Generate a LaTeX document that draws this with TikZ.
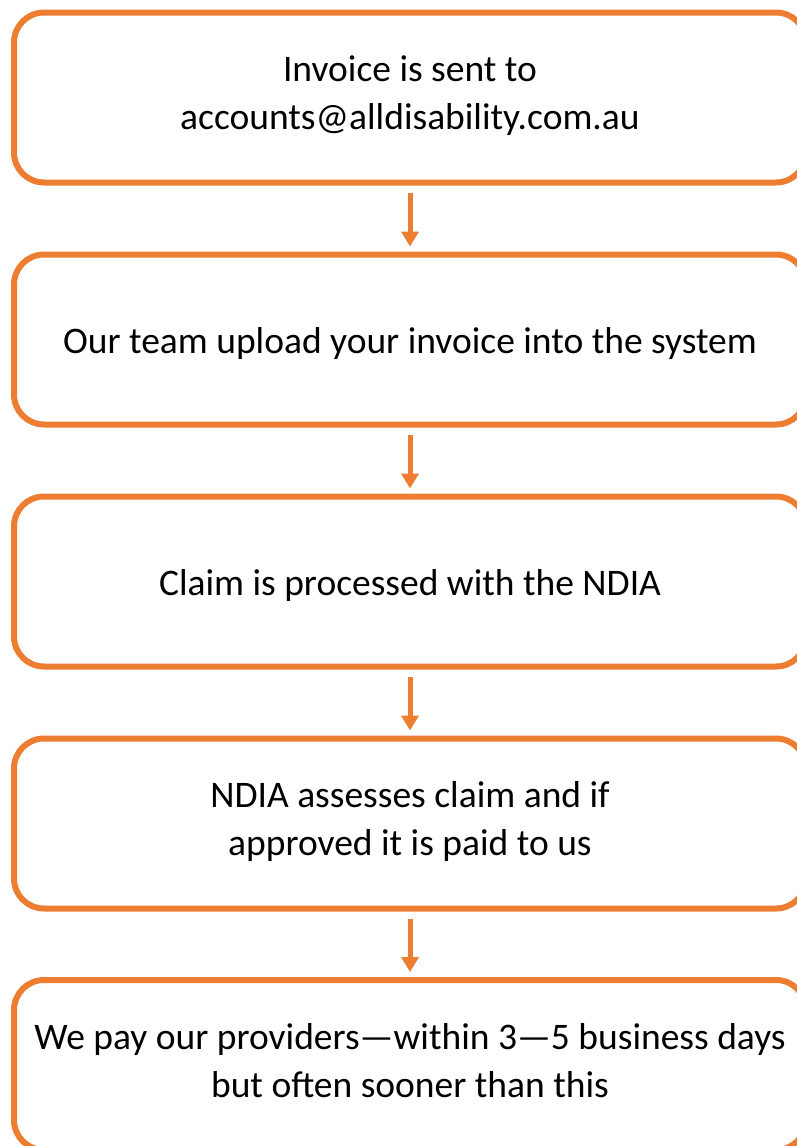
\documentclass[tikz,border=0pt]{standalone}
\usepackage{fontspec}
\setmainfont{Carlito}
\usetikzlibrary{arrows.meta}
\definecolor{boxorange}{HTML}{ED7D31}
\tikzset{
  stepbox/.style={draw=boxorange, line width=6pt, rounded corners=30pt,
    minimum width=792pt, minimum height=170pt, inner sep=0pt, outer sep=0pt,
    align=center, font=\fontsize{37.5}{48}\selectfont, text=black,
    execute at begin node={\rule{0pt}{37.5pt}},
    execute at end node={\rule[-10pt]{0pt}{10pt}}},
  flowarrow/.style={draw=boxorange, line width=5pt,
    -{Triangle[width=17pt,length=15pt]}, shorten <=10pt, shorten >=8pt}
}
\begin{document}
\begin{tikzpicture}[x=1pt,y=-1pt]
  \clip (0,0) rectangle (797,1146);
  \node[stepbox] (b1) at (410,97.5) {Invoice is sent to\\accounts@alldisability.com.au};
  \node[stepbox] (b2) at (410,339.5) {Our team upload your invoice into the system};
  \node[stepbox] (b3) at (410,581.5) {Claim is processed with the NDIA};
  \node[stepbox] (b4) at (410,823.5) {NDIA assesses claim and if\\approved it is paid to us};
  \node[stepbox] (b5) at (410,1065) {We pay our providers—within 3—5 business days\\but often sooner than this};
  \draw[flowarrow] (b1.south) -- (b2.north);
  \draw[flowarrow] (b2.south) -- (b3.north);
  \draw[flowarrow] (b3.south) -- (b4.north);
  \draw[flowarrow] (b4.south) -- (b5.north);
\end{tikzpicture}
\end{document}
